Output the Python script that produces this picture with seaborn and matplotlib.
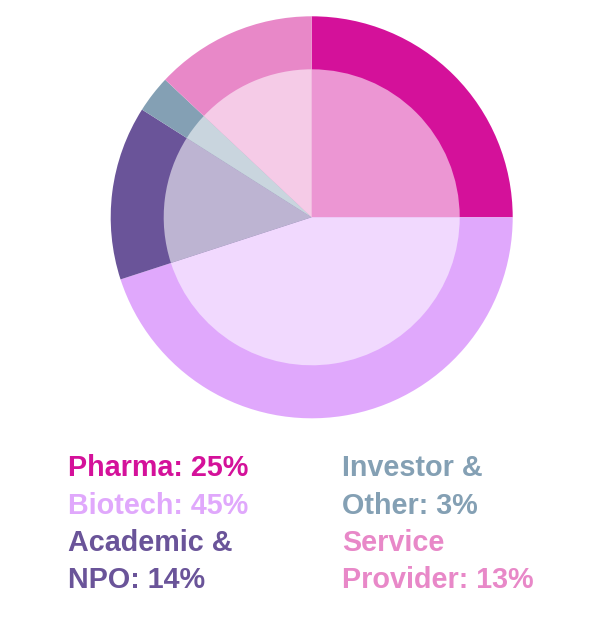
import matplotlib
matplotlib.use("Agg")
import matplotlib.pyplot as plt
import seaborn as sns
from matplotlib.colors import to_rgb

# data
sectors = ["Pharma", "Biotech", "Academic & NPO", "Investor & Other", "Service Provider"]
shares = [25, 45, 14, 3, 13]
colors = ["#D4119A", "#E0A8FC", "#6A5499", "#84A0B4", "#E888C8"]
legend_lines = [
    ["Pharma: 25%", "Biotech: 45%", "Academic &", "NPO: 14%"],
    ["Investor &", "Other: 3%", "Service", "Provider: 13%"],
]
legend_colors = [
    [colors[0], colors[1], colors[2], colors[2]],
    [colors[3], colors[3], colors[4], colors[4]],
]

sns.set_theme(style="white")
plt.rcParams["font.family"] = ["Liberation Sans", "DejaVu Sans"]

W, H = 611, 639
fig = plt.figure(figsize=(W / 100, H / 100), dpi=100)

cx, cy, r_out, r_in = 311.7, 217.3, 201, 148
ax = fig.add_axes([(cx - r_out) / W, (H - cy - r_out) / H, 2 * r_out / W, 2 * r_out / H])

# lighter inner disc: slice colour blended with white
light = [tuple(c + (1 - c) * 0.56 for c in to_rgb(col)) for col in colors]

ax.pie(shares, colors=colors, startangle=90, counterclock=False, radius=1,
       wedgeprops=dict(linewidth=0))
ax.pie(shares, colors=light, startangle=90, counterclock=False, radius=r_in / r_out,
       wedgeprops=dict(linewidth=0))
ax.set_xlim(-1, 1)
ax.set_ylim(-1, 1)
ax.set_aspect("equal")
ax.axis("off")

col_x = [68, 342]
baselines = [476, 513.5, 551, 588]
for lines, cols, x in zip(legend_lines, legend_colors, col_x):
    for txt, c, y in zip(lines, cols, baselines):
        fig.text(x / W, 1 - y / H, txt, color=c, fontsize=20.7, fontweight="bold",
                 ha="left", va="baseline")

fig.savefig("out.png", dpi=100)
